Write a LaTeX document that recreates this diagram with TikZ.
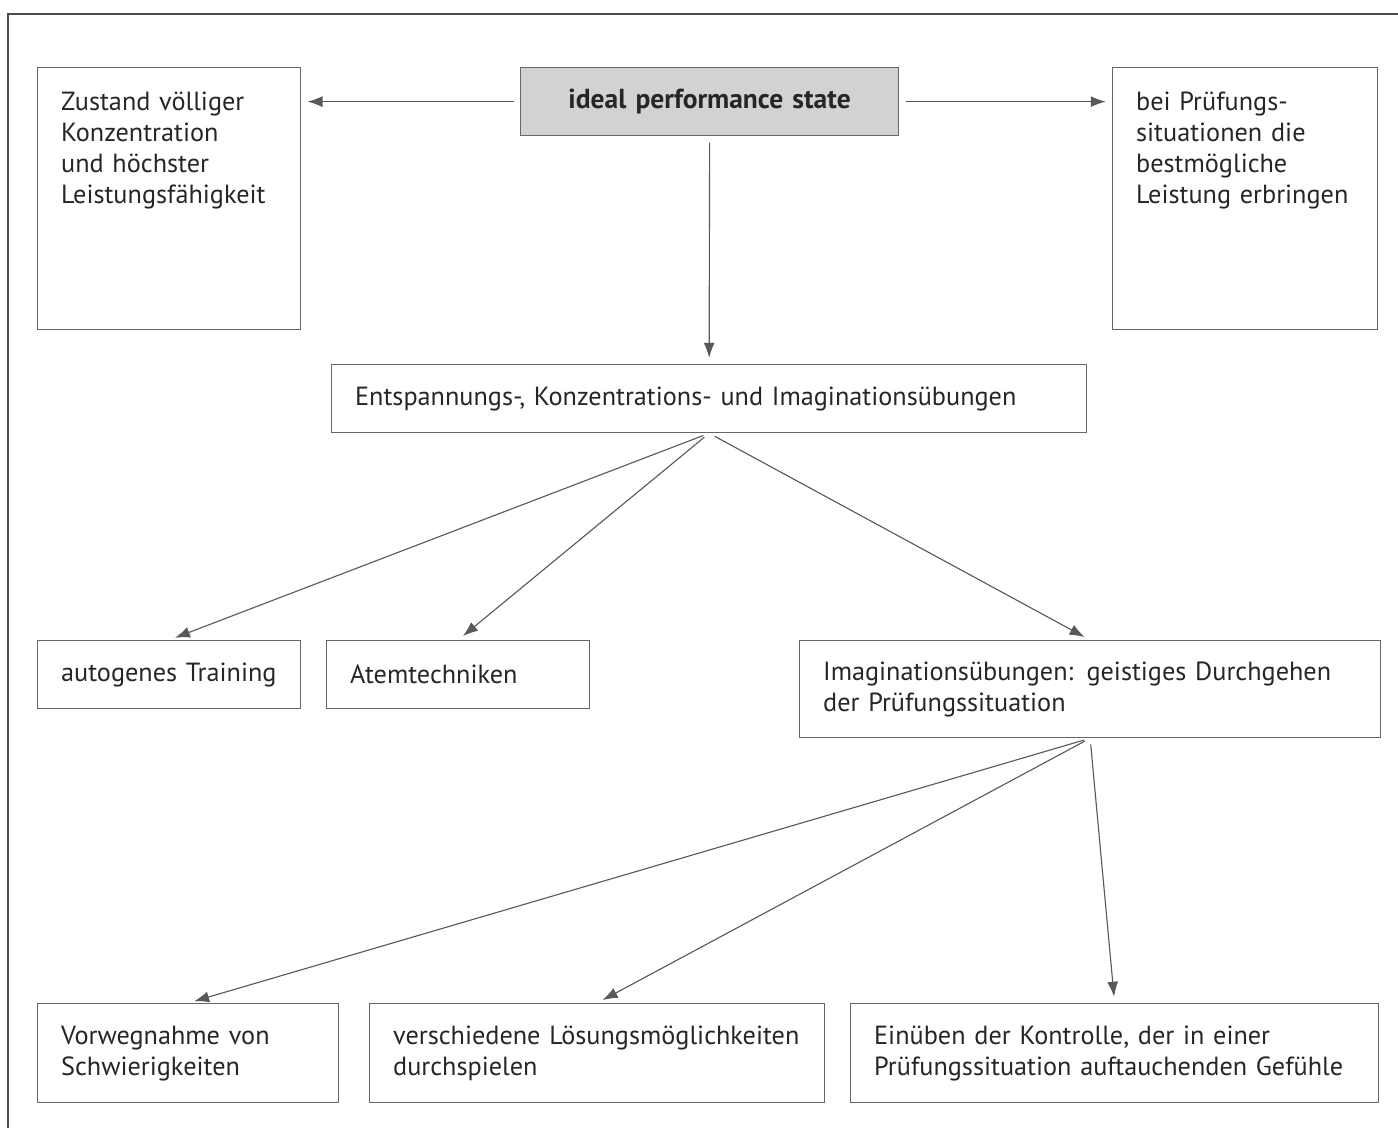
\documentclass[tikz,border=0pt]{standalone}
\usepackage{fontspec}
\setmainfont{PT Sans}
\usetikzlibrary{positioning, arrows.meta}
\hyphenpenalty=10000
\exhyphenpenalty=10000

\tikzset{
  box/.style={draw=gray!80!black, line width=0.5pt, anchor=north west, align=left,
    inner xsep=9.4pt, inner ysep=4pt, text=black!85,
    font=\fontsize{10.5}{12.4}\selectfont},
  tallbox/.style={box, text height=13.2pt, text depth=83.6pt},
  conn/.style={-{Latex[length=6pt,width=4.4pt]}, draw=gray!70!black, line width=0.45pt,
    shorten <=2.5pt, shorten >=2.5pt},
}

\begin{document}
\begin{tikzpicture}[x=0.4pt, y=-0.4pt]
    \useasboundingbox (0,0) rectangle (1398,1128);
    \draw[gray!60!black, line width=0.5pt] (1398,14) -- (8,14) -- (8,1128);

    \node[tallbox, text width=86.4pt] (zust) at (37,67)
        {Zustand völliger\\Konzentration\\und höchster\\Leistungsfähigkeit};
    \node[box, fill=gray!35, align=center, text width=132.4pt, minimum height=27.2pt,
        font=\fontsize{11}{13}\selectfont\bfseries] (ideal) at (520,67) {ideal performance state};
    \node[tallbox, text width=87.2pt] (pruef) at (1112,67)
        {bei Prüfungs-\\situationen die\\bestmögliche\\Leistung erbringen};
    \node[box, text width=283.2pt, minimum height=27.2pt] (entsp) at (331,364)
        {Entspannungs-, Konzentrations- und Imaginationsübungen};

    \node[box, text width=86.4pt, minimum height=27.2pt] (auto) at (37,640) {autogenes Training};
    \node[box, text width=86.4pt, minimum height=27.2pt, right=9.9pt of auto] (atem) {Atemtechniken};
    \node[box, text width=213.6pt, minimum height=38.8pt] (imag) at (799,640)
        {Imaginationsübungen: geistiges Durchgehen\\der Prüfungssituation};

    \node[box, text width=101.6pt, minimum height=39.6pt] (vorweg) at (37,1003)
        {Vorwegnahme von\\Schwierigkeiten};
    \node[box, text width=163.2pt, minimum height=39.6pt, right=11.9pt of vorweg] (versch)
        {verschiedene Lösungsmöglichkeiten\\durchspielen};
    \node[box, text width=192.4pt, minimum height=39.6pt, right=9.9pt of versch] (einub)
        {Einüben der Kontrolle, der in einer\\Prüfungssituation auftauchenden Gefühle};

    \draw[conn] (ideal.west) -- (ideal.west -| zust.east);
    \draw[conn] (ideal.east) -- (ideal.east -| pruef.west);
    \draw[conn] (ideal.south) -- (entsp.north);
    \foreach \t in {auto, atem, imag}
        \draw[conn] (entsp.south) -- (\t.north);
    \foreach \t in {vorweg, versch, einub}
        \draw[conn] (imag.south) -- (\t.north);

\end{tikzpicture}
\end{document}
